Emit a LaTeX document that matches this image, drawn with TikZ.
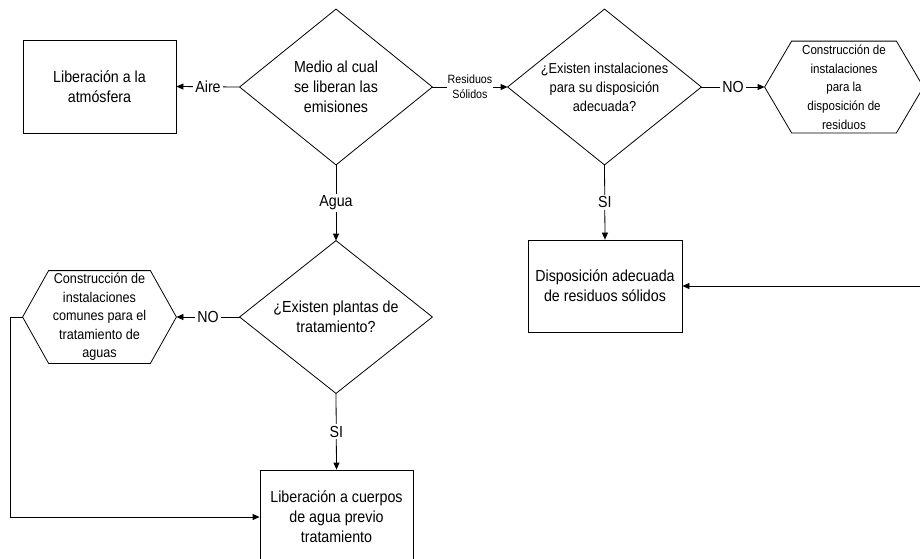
\documentclass[tikz,border=0pt]{standalone}
\usepackage{fontspec}
\setmainfont[FakeStretch=0.89]{Liberation Sans}
\usetikzlibrary{arrows.meta,calc}
\begin{document}
\begin{tikzpicture}[x=1pt,y=-1pt, line width=0.8pt,
  every node/.style={inner sep=0pt, align=center},
  big/.style={font=\fontsize{16}{20}\selectfont},
  blk/.style={draw, big, minimum width=153pt, minimum height=93pt},
  dia/.style={minimum width=192pt, minimum height=155pt},
  hexa/.style={minimum width=155pt, minimum height=92pt},
  arr/.style={-{Triangle[length=7pt,width=6pt]}},
  lbl/.style={fill=white, inner sep=2pt, big}]
\useasboundingbox (0,0) rectangle (920,558);
\clip (0,0) rectangle (920,558);

% nodes
\node[blk] (b1) at (99.5,86.5) {Liberación a la\\atmósfera};
\node[dia, big] (d1) at (336,87) {Medio al cual\\se liberan las\\emisiones};
\node[dia, font=\fontsize{14.4}{19}\selectfont, minimum width=193pt] (d3) at (604.5,87) {¿Existen instalaciones\\para su disposición\\adecuada?};
\node[hexa, font=\fontsize{13}{18.7}\selectfont, minimum width=158pt, minimum height=91pt] (h2) at (844,87) {Construcción de\\instalaciones\\para la\\disposición de\\residuos};
\node[dia, big, minimum height=152pt] (d2) at (336,317) {¿Existen plantas de\\tratamiento?};
\node[hexa, font=\fontsize{14.2}{18.5}\selectfont, minimum width=153pt] (h1) at (99.5,317) {Construcción de\\instalaciones\\comunes para el\\tratamiento de\\aguas};
\node[blk, minimum width=154pt, minimum height=92pt] (b4) at (605,286) {Disposición adecuada\\de residuos sólidos};
\node[blk, minimum height=94pt] (b3) at (336.5,517) {Liberación a cuerpos\\de agua previo\\tratamiento};

% shapes
\draw (d1.north) -- (d1.east) -- (d1.south) -- (d1.west) -- cycle;
\draw (d2.north) -- (d2.east) -- (d2.south) -- (d2.west) -- cycle;
\draw (d3.north) -- (d3.east) -- (d3.south) -- (d3.west) -- cycle;
\draw ($(h1.north west)+(26,0)$) -- ($(h1.north east)+(-26,0)$) -- (h1.east)
  -- ($(h1.south east)+(-26,0)$) -- ($(h1.south west)+(26,0)$) -- (h1.west) -- cycle;
\draw ($(h2.north west)+(27,0)$) -- ($(h2.north east)+(-27,0)$) -- (h2.east)
  -- ($(h2.south east)+(-27,0)$) -- ($(h2.south west)+(27,0)$) -- (h2.west) -- cycle;

% connectors
\draw[arr] (d1.west) -- node[lbl]{Aire} (b1.east);
\draw[arr] (d1.east) -- node[fill=white, inner sep=1pt, font=\fontsize{12}{15}\selectfont]{Residuos\\Sólidos} (d3.west);
\draw[arr] (d1.south) -- node[lbl]{Agua} (d2.north);
\draw[arr] (d3.east) -- node[lbl]{NO} (h2.west);
\draw[arr] (d3.south) -- node[lbl]{SI} (b4.north);
\draw[arr] (d2.west) -- node[lbl]{NO} (h1.east);
\draw[arr] (d2.south) -- node[lbl]{SI} (b3.north);
\coordinate (lx) at (10,0);
\coordinate (rx) at (940,0);
\draw[arr] (h1.west) -- (h1.west -| lx) |- (b3.west);
\draw[arr] (h2.east) -- (h2.east -| rx) |- (b4.east);
\end{tikzpicture}
\end{document}
